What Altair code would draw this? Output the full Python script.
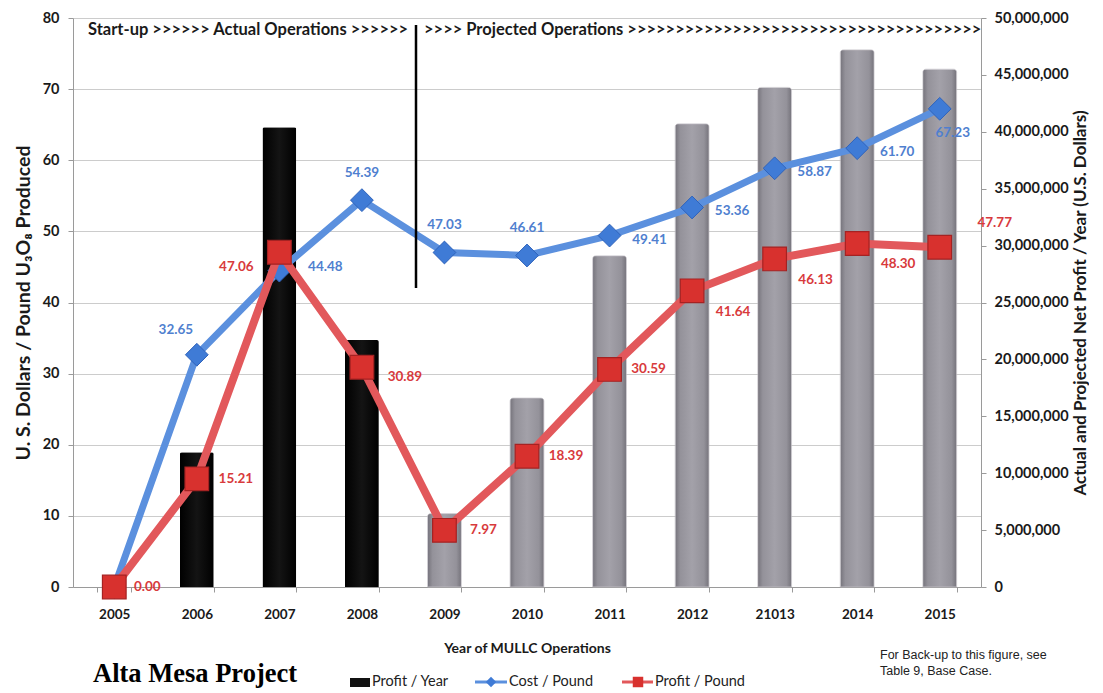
import altair as alt
import pandas as pd

# ---------------- data ----------------
years = ["2005", "2006", "2007", "2008", "2009", "2010", "2011", "2012", "21013", "2014", "2015"]
phase = ["Actual", "Actual", "Actual", "Actual", "Projected", "Projected", "Projected",
         "Projected", "Projected", "Projected", "Projected"]
profit_per_year = [0, 11_850_000, 40_400_000, 21_700_000, 6_450_000, 16_600_000,
                   29_100_000, 40_700_000, 43_900_000, 47_200_000, 45_500_000]
cost_per_pound = [0.00, 32.65, 44.48, 54.39, 47.03, 46.61, 49.41, 53.36, 58.87, 61.70, 67.23]
profit_per_pound = [0.00, 15.21, 47.06, 30.89, 7.97, 18.39, 30.59, 41.64, 46.13, 48.30, 47.77]

df = pd.DataFrame({
    "year": years,
    "phase": phase,
    "profit_year": profit_per_year,
    "cost": cost_per_pound,
    "profit": profit_per_pound,
})
df["cost_lbl"] = [f"{v:.2f}" for v in cost_per_pound]
df["profit_lbl"] = [f"{v:.2f}" for v in profit_per_pound]

# ---------------- styling ----------------
W, H = 908, 569
FONT = "Lato"
TXT = "#1a1a1a"
BLUE_LINE = "#5b90de"
BLUE_PT = "#3f7bd6"
BLUE_TXT = "#4f7fcf"
RED_LINE = "#e2585b"
RED_PT = "#d8312e"
RED_TXT = "#d83a3c"

x_enc = alt.X(
    "year:N", sort=years,
    scale=alt.Scale(domain=years, paddingInner=0.59, paddingOuter=0.295),
    axis=alt.Axis(
        title="Year of MULLC Operations", labelAngle=0, labelFont=FONT,
        labelFontWeight="bold", labelFontSize=13.5, labelColor=TXT, labelPadding=15,
        tickBand="extent", tickSize=5, tickColor="#9a9a9a", domainColor="#9a9a9a",
        titleFont=FONT, titleFontWeight="bold", titleFontSize=14, titleColor=TXT,
        titlePadding=21,
    ),
)

left_scale = alt.Scale(domain=[0, 80], nice=False)
left_axis = alt.Axis(
    orient="left", values=list(range(0, 81, 10)),
    title="U. S. Dollars / Pound U₃O₈ Produced",
    grid=True, gridColor="#cccccc", gridWidth=1,
    labelFont=FONT, labelFontWeight="bold", labelFontSize=14.5, labelColor=TXT,
    labelPadding=9, tickSize=5, tickColor="#9a9a9a", domainColor="#9a9a9a",
    titleFont=FONT, titleFontWeight="bold", titleFontSize=19.5, titleColor=TXT,
    titlePadding=9,
)

right_axis = alt.Axis(
    orient="right", values=list(range(0, 50_000_001, 5_000_000)), format=",.0f",
    title="Actual and Projected  Net Profit / Year (U.S. Dollars)",
    grid=False, labelFont=FONT, labelFontWeight="bold", labelFontSize=14.5, labelColor=TXT,
    labelPadding=8, tickSize=5, tickColor="#9a9a9a", domainColor="#9a9a9a",
    titleFont=FONT, titleFontWeight="bold", titleFontSize=17, titleColor=TXT,
    titleAngle=270, titleBaseline="top", titlePadding=4,
)

y_bar = alt.Y("profit_year:Q", scale=alt.Scale(domain=[0, 50_000_000], nice=False), axis=right_axis)

gray_grad = alt.Gradient(
    gradient="linear", x1=0, x2=1, y1=0, y2=0,
    stops=[alt.GradientStop(offset=0, color="#75737b"),
           alt.GradientStop(offset=0.15, color="#94929a"),
           alt.GradientStop(offset=0.5, color="#a3a1a9"),
           alt.GradientStop(offset=0.85, color="#94929a"),
           alt.GradientStop(offset=1, color="#75737b")],
)
black_grad = alt.Gradient(
    gradient="linear", x1=0, x2=1, y1=0, y2=0,
    stops=[alt.GradientStop(offset=0, color="#000000"),
           alt.GradientStop(offset=0.5, color="#141414"),
           alt.GradientStop(offset=1, color="#000000")],
)

base = alt.Chart(df)

black_bars = base.mark_bar(color=black_grad, cornerRadiusTopLeft=2, cornerRadiusTopRight=2).encode(
    x=x_enc, y=y_bar
).transform_filter(alt.datum.phase == "Actual")

gray_bars = base.mark_bar(color=gray_grad, cornerRadiusTopLeft=3, cornerRadiusTopRight=3,
                          stroke="#bdbbc1", strokeWidth=0.6).encode(
    x=x_enc, y=y_bar
).transform_filter(alt.datum.phase == "Projected")

bars = alt.layer(black_bars, gray_bars)

y_cost = alt.Y("cost:Q", scale=left_scale, axis=left_axis)
y_profit = alt.Y("profit:Q", scale=left_scale, axis=left_axis)

blue_line = base.mark_line(color=BLUE_LINE, strokeWidth=7).encode(x=x_enc, y=y_cost)
blue_pts = base.mark_point(shape="diamond", filled=True, size=520, color=BLUE_PT,
                           stroke="#2f63bb", strokeWidth=1, opacity=1).encode(x=x_enc, y=y_cost)
red_line = base.mark_line(color=RED_LINE, strokeWidth=8).encode(x=x_enc, y=y_profit)
red_pts = base.mark_point(shape="square", filled=True, size=560, color=RED_PT,
                          stroke="#a52222", strokeWidth=1.2, opacity=1).encode(x=x_enc, y=y_profit)


def labels(field, lbl, subset, dx, dy, color):
    return base.mark_text(font=FONT, fontWeight="bold", fontSize=13.5, color=color,
                          dx=dx, dy=dy, align="center", baseline="middle").encode(
        x=x_enc, y=alt.Y(f"{field}:Q", scale=left_scale, axis=left_axis), text=f"{lbl}:N"
    ).transform_filter(alt.FieldOneOfPredicate(field="year", oneOf=subset))


label_layers = [
    labels("cost", "cost_lbl", ["2006"], -21, -25, BLUE_TXT),
    labels("cost", "cost_lbl", ["2007"], 46, -4, BLUE_TXT),
    labels("cost", "cost_lbl", ["2008", "2009", "2010"], 0, -27, BLUE_TXT),
    labels("cost", "cost_lbl", ["2011", "2012", "21013", "2014"], 40, 4, BLUE_TXT),
    labels("cost", "cost_lbl", ["2015"], 13, 24, BLUE_TXT),
    labels("profit", "profit_lbl", ["2005"], 33, 0, RED_TXT),
    labels("profit", "profit_lbl", ["2006", "2009", "2010", "2011"], 39, 0, RED_TXT),
    labels("profit", "profit_lbl", ["2007"], -43, 15, RED_TXT),
    labels("profit", "profit_lbl", ["2008"], 43, 10, RED_TXT),
    labels("profit", "profit_lbl", ["2012", "21013", "2014"], 41, 21, RED_TXT),
    labels("profit", "profit_lbl", ["2015"], 55, -24, RED_TXT),
]

one = alt.Chart(pd.DataFrame({"k": [0]}))


def note(text, x, y, size, font=FONT, weight="bold", color=TXT, align="left", baseline="middle"):
    return one.mark_text(text=text, font=font, fontWeight=weight, fontSize=size, color=color,
                         align=align, baseline=baseline).encode(x=alt.value(x), y=alt.value(y))


header1 = note("Start-up  >>>>>> Actual Operations >>>>>>", 15, 12, 16.5)
header2 = note(">>>> Projected Operations " + ">" * 37, 351, 12, 16.5)
divider = one.mark_rule(color="black", strokeWidth=2.5).encode(
    x=alt.value(343), y=alt.value(7), y2=alt.value(270))

project = note("Alta Mesa Project", 20, 664, 26.5, font="Liberation Serif", weight="bold",
               color="black", baseline="alphabetic")
backup1 = note("For Back-up to this figure, see", 807, 637, 12.5,
               font="Liberation Sans Narrow, Arial Narrow, sans-serif", weight="normal", color="#222")
backup2 = note("Table 9, Base Case.", 807, 653, 12.5,
               font="Liberation Sans Narrow, Arial Narrow, sans-serif", weight="normal", color="#222")

# legend
LEG_Y = 664
leg_rect = one.mark_rect(color="#111111").encode(
    x=alt.value(277), x2=alt.value(297), y=alt.value(LEG_Y - 4), y2=alt.value(LEG_Y + 5))
leg_t1 = note("Profit / Year", 299, LEG_Y, 14.5, weight="normal", color="#222")
leg_bline = one.mark_rule(color=BLUE_LINE, strokeWidth=3).encode(
    x=alt.value(402), x2=alt.value(434), y=alt.value(LEG_Y))
leg_bpt = one.mark_point(shape="diamond", filled=True, size=110, color=BLUE_PT, opacity=1).encode(
    x=alt.value(418), y=alt.value(LEG_Y))
leg_t2 = note("Cost / Pound", 436, LEG_Y, 14.5, weight="normal", color="#222")
leg_rline = one.mark_rule(color=RED_LINE, strokeWidth=3).encode(
    x=alt.value(549), x2=alt.value(580), y=alt.value(LEG_Y))
leg_rpt = one.mark_point(shape="square", filled=True, size=110, color=RED_PT, opacity=1).encode(
    x=alt.value(565), y=alt.value(LEG_Y))
leg_t3 = note("Profit / Pound", 582, LEG_Y, 14.5, weight="normal", color="#222")

lines = alt.layer(
    blue_line, blue_pts, red_line, red_pts, *label_layers,
    header1, header2, divider, project, backup1, backup2,
    leg_rect, leg_t1, leg_bline, leg_bpt, leg_t2, leg_rline, leg_rpt, leg_t3,
)

chart = alt.layer(bars, lines).resolve_scale(y="independent").properties(
    width=W, height=H,
    autosize=alt.AutoSizeParams(type="none"),
    padding={"left": 65, "top": 10, "right": 108, "bottom": 105},
    background="white",
).configure_view(strokeWidth=0)

chart.save("out.html", embed_options={"renderer": "svg", "actions": False})
